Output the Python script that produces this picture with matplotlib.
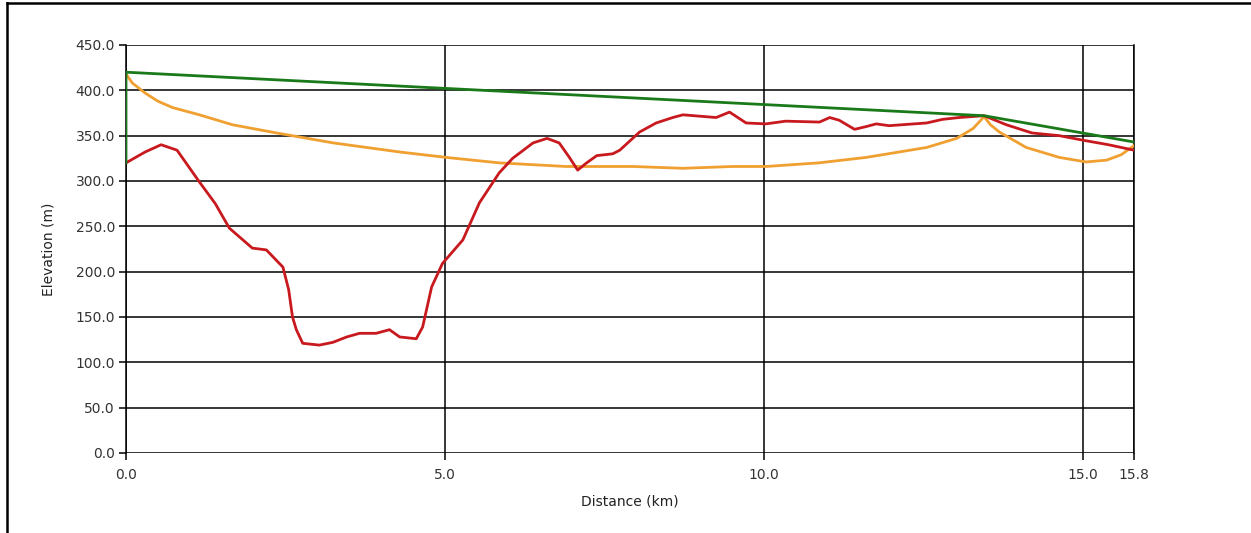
import matplotlib
matplotlib.use("Agg")
import matplotlib.pyplot as plt
from matplotlib.lines import Line2D

# ---- data ----
terrain_km = [0.0, 0.3, 0.55, 0.8, 1.15, 1.4, 1.62, 1.98, 2.2, 2.46, 2.55, 2.61, 2.67, 2.77,
              3.03, 3.24, 3.46, 3.66, 3.92, 4.13, 4.29, 4.55, 4.65, 4.79, 4.96, 5.28, 5.54,
              5.85, 6.06, 6.38, 6.6, 6.79, 6.95, 7.08, 7.22, 7.38, 7.63, 7.74, 8.05, 8.31,
              8.57, 8.73, 9.25, 9.46, 9.72, 10.03, 10.34, 10.87, 11.03, 11.18, 11.42, 11.6,
              11.76, 11.96, 12.55, 12.8, 13.06, 13.45, 13.8, 14.2, 14.63, 15.0, 15.4, 15.8]
terrain_m = [320, 332, 340, 334, 299, 275, 248, 226, 224, 205, 180, 150, 136, 121,
             119, 122, 128, 132, 132, 136, 128, 126, 139, 183, 209, 235, 276,
             309, 325, 342, 347, 342, 326, 312, 320, 328, 330, 334, 354, 364,
             370, 373, 370, 376, 364, 363, 366, 365, 370, 367, 357, 360,
             363, 361, 364, 368, 370, 372, 362, 353, 350, 345, 340, 334]

los_km = [0.0, 0.0, 13.45, 15.8]
los_m = [320, 420, 372, 343]

curve_km = [0.0, 0.1, 0.3, 0.5, 0.73, 1.15, 1.67, 2.36, 3.25, 4.29, 5.02, 5.85, 6.9, 7.95, 8.73,
            9.5, 10.03, 10.86, 11.6, 12.55, 13.02, 13.28, 13.45, 13.55, 13.69, 14.11, 14.63,
            15.05, 15.37, 15.6, 15.8]
curve_m = [418, 408, 397, 388, 381, 373, 362, 353, 342, 332, 326, 320, 316, 316, 314,
           316, 316, 320, 326, 337, 347, 358, 371, 362, 354, 337, 326,
           321, 323, 329, 339]

x_ticks = [0.0, 5.0, 10.0, 15.0, 15.8]
x_labels = ["0.0", "5.0", "10.0", "15.0", "15.8"]
y_ticks = [0, 50, 100, 150, 200, 250, 300, 350, 400, 450]

plt.rcParams['font.family'] = ['DejaVu Sans']

fig = plt.figure(figsize=(12.51, 5.33), dpi=100)
ax = fig.add_axes([126 / 1251, 1 - 453 / 533, (1134 - 126) / 1251, (453 - 45) / 533])

ax.plot(curve_km, curve_m, color="#f0a030", lw=2.0, zorder=3)
ax.plot(terrain_km, terrain_m, color="#c8191e", lw=2.0, zorder=4)
ax.plot(los_km, los_m, color="#1a7a1a", lw=2.0, zorder=5)

ax.set_xlim(0, 15.8)
ax.set_ylim(0, 450)
ax.set_xticks(x_ticks)
ax.set_xticklabels(x_labels)
ax.set_yticks(y_ticks)
ax.set_yticklabels([f"{v:.1f}" for v in y_ticks])
ax.grid(True, color="black", lw=1.1)
ax.set_axisbelow(True)
for s in ax.spines.values():
    s.set_visible(False)
ax.spines['left'].set_visible(True)
ax.spines['right'].set_visible(True)
ax.spines['left'].set_linewidth(1.1)
ax.spines['right'].set_linewidth(1.1)
ax.tick_params(direction="out", length=5, width=1.1, labelsize=10, colors="black",
               labelcolor="#333333")
ax.tick_params(axis="x", pad=6)
ax.tick_params(axis="y", pad=3)
ax.set_xlabel("Distance (km)", fontsize=10, color="#222222", labelpad=9)
ax.set_ylabel("Elevation (m)", fontsize=10, color="#222222", labelpad=14)

# figure frame (top and left)
fig.add_artist(Line2D([7 / 1251, 7 / 1251], [0, 1 - 3 / 533], transform=fig.transFigure,
                      color="black", lw=1.8))
fig.add_artist(Line2D([7 / 1251, 1], [1 - 3 / 533, 1 - 3 / 533], transform=fig.transFigure,
                      color="black", lw=1.8))

fig.savefig("out.png", dpi=100, facecolor="white")
